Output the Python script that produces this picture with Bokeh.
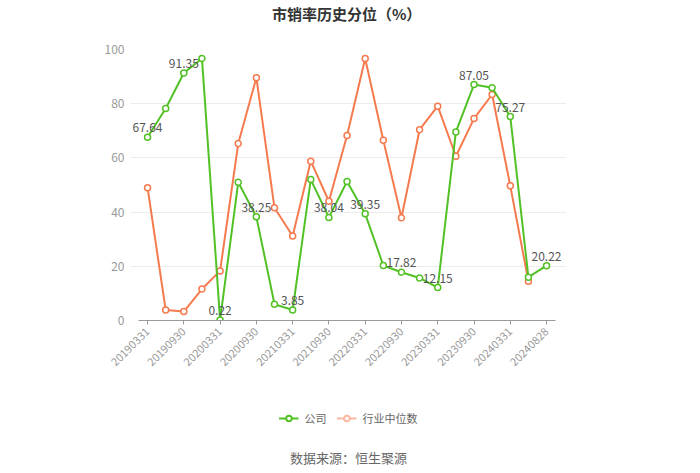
from bokeh.plotting import figure
from bokeh.layouts import column
from bokeh.models import (ColumnDataSource, LabelSet, Label, Legend, LegendItem,
                          FixedTicker, Range1d)
from bokeh.embed import file_html
from bokeh.resources import INLINE
from bokeh.core.properties import value

categories = ["20190331", "20190630", "20190930", "20191231",
              "20200331", "20200630", "20200930", "20201231",
              "20210331", "20210630", "20210930", "20211231",
              "20220331", "20220630", "20220930", "20221231",
              "20230331", "20230630", "20230930", "20231231",
              "20240331", "20240630", "20240828"]
company = [67.64, 78.2, 91.35, 96.7,
           0.22, 51.0, 38.25, 6.0,
           3.85, 52.0, 38.04, 51.3,
           39.35, 20.3, 17.82, 15.7,
           12.15, 69.6, 87.05, 85.9,
           75.27, 16.0, 20.22]
industry = [49.0, 3.9, 3.3, 11.6,
            18.3, 65.3, 89.6, 41.6,
            31.2, 58.8, 44.0, 68.3,
            96.7, 66.5, 37.9, 70.4,
            79.1, 60.6, 74.5, 83.4,
            49.7, 14.5]
labeled = ["20190331", "20190930", "20200331", "20200930", "20210331",
           "20210930", "20220331", "20220930", "20230331", "20230930",
           "20240331", "20240828"]
tick_labels = categories[0::2][:11] + ["20240828"]
tick_idx = [categories.index(t) for t in tick_labels]
series_names = ["公司", "行业中位数"]
title_text = "市销率历史分位（%）"
source_text = "数据来源：恒生聚源"

GREEN = "#52c125"
ORANGE = "#f57a4e"
ORANGE_PALE = "#f8b9a2"
FONT = "Noto Sans CJK SC"

# header: title
h = figure(width=700, height=28, output_backend="svg", toolbar_location=None,
           x_range=Range1d(0, 700), y_range=Range1d(0, 28),
           min_border=0, x_axis_type=None, y_axis_type=None)
h.outline_line_color = None
h.grid.visible = False
h.border_fill_color = "white"
h.add_layout(Label(x=347, y=15, text=title_text, text_align="center",
                   text_baseline="middle", text_font_size="15px",
                   text_font_style="bold", text_color="#333333",
                   text_font=FONT))

n = len(categories)
p = figure(width=700, height=367, output_backend="svg", toolbar_location=None,
           x_range=Range1d(-0.94, n + 0.1), y_range=Range1d(0, 100),
           min_border_left=130, min_border_right=134, min_border_top=21,
           min_border_bottom=75)
p.outline_line_color = None
p.background_fill_color = "white"
p.border_fill_color = "white"

xs = list(range(n))
src_c = ColumnDataSource(dict(x=xs, y=company))
src_i = ColumnDataSource(dict(x=xs[:len(industry)], y=industry))

p.line("x", "y", source=src_i, line_color=ORANGE, line_width=2)
p.scatter("x", "y", source=src_i, size=6, marker="circle",
          line_color=ORANGE, fill_color="white", line_width=1.5)
p.line("x", "y", source=src_c, line_color=GREEN, line_width=2)
p.scatter("x", "y", source=src_c, size=6, marker="circle",
          line_color=GREEN, fill_color="white", line_width=1.5)

lab_x = [categories.index(c) for c in labeled]
lab_y = [company[i] for i in lab_x]
lab_t = ["%.2f" % v for v in lab_y]
lsrc = ColumnDataSource(dict(x=lab_x, y=lab_y, t=lab_t))
p.add_layout(LabelSet(x="x", y="y", text="t", source=lsrc, y_offset=5,
                      text_align="center", text_baseline="bottom",
                      text_font_size="12px", text_color="#555555",
                      text_font=value(FONT)))

# axes
p.xaxis.ticker = FixedTicker(ticks=tick_idx)
p.xaxis.bounds = (-0.5, n - 0.5)
p.xaxis.major_label_overrides = {i: c for i, c in zip(tick_idx, tick_labels)}
p.xaxis.major_label_orientation = 0.785
p.xaxis.major_label_text_font_size = "11px"
p.xaxis.major_label_text_color = "#9a9a9a"
p.xaxis.major_label_text_font = FONT
p.xaxis.axis_line_color = "#9a9a9a"
p.xaxis.major_tick_line_color = "#9a9a9a"
p.xaxis.major_tick_out = 4
p.xaxis.major_tick_in = 0
p.xaxis.minor_tick_line_color = None
p.xgrid.grid_line_color = None

p.yaxis.ticker = FixedTicker(ticks=[0, 20, 40, 60, 80, 100])
p.yaxis.axis_line_color = None
p.yaxis.major_tick_line_color = None
p.yaxis.minor_tick_line_color = None
p.yaxis.major_label_text_font_size = "12px"
p.yaxis.major_label_text_color = "#9a9a9a"
p.yaxis.major_label_text_font = FONT
p.yaxis.major_label_standoff = 0
p.ygrid.grid_line_color = "#ececec"

# footer: legend + source
f = figure(width=700, height=78, output_backend="svg", toolbar_location=None,
           x_range=Range1d(0, 700), y_range=Range1d(0, 78),
           min_border=0, x_axis_type=None, y_axis_type=None)
f.outline_line_color = None
f.grid.visible = False
f.border_fill_color = "white"

nan = float("nan")
proxy = ColumnDataSource(dict(x=[nan], y=[nan]))
gl = f.line("x", "y", source=proxy, line_color=GREEN, line_width=2)
gs = f.scatter("x", "y", source=proxy, size=9, marker="circle",
               line_color=GREEN, fill_color="white", line_width=2)
ol = f.line("x", "y", source=proxy, line_color=ORANGE_PALE, line_width=2)
os_ = f.scatter("x", "y", source=proxy, size=9, marker="circle",
                line_color=ORANGE_PALE, fill_color="white", line_width=2)

legend = Legend(items=[LegendItem(label=series_names[0], renderers=[gl, gs]),
                       LegendItem(label=series_names[1], renderers=[ol, os_])],
                orientation="horizontal", location="top_center",
                background_fill_alpha=0, border_line_color=None,
                label_text_font_size="11px", label_text_color="#666666",
                label_text_font=FONT, glyph_width=20, glyph_height=14,
                label_standoff=6, spacing=10, padding=0, margin=15)
f.add_layout(legend)

f.add_layout(Label(x=350, y=16, text=source_text, text_align="center",
                   text_baseline="middle", text_font_size="13px",
                   text_color="#666666", text_font=FONT))

layout = column(h, p, f, spacing=0)
open("out.html", "w").write(file_html(layout, INLINE))
